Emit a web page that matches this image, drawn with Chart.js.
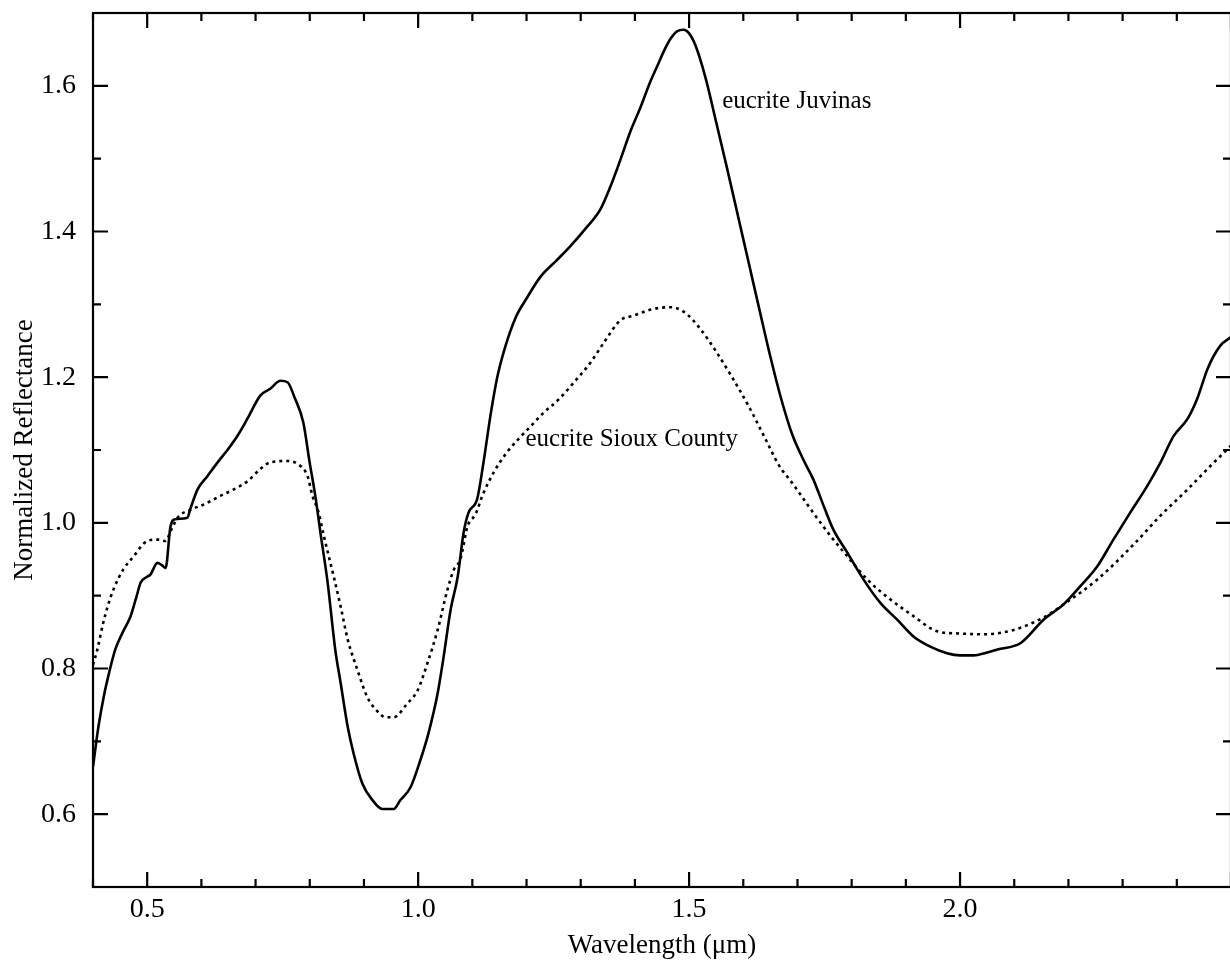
<!DOCTYPE html>
<html lang="en">
<head>
  <meta charset="UTF-8">
  <title>Eucrite spectra</title>
  <script src="https://cdn.jsdelivr.net/npm/chart.js"></script>
  <style>
    html, body { margin: 0; padding: 0; background: #fff; overflow: hidden; }
  </style>
  <script>
    addEventListener("DOMContentLoaded", init);

    // eucrite Juvinas (solid line)
    const juvinasWl = [
      0.400, 0.410, 0.420, 0.430, 0.441, 0.455, 0.469, 0.480, 0.488, 0.500,
      0.506, 0.519, 0.527, 0.534, 0.543, 0.552, 0.574, 0.580, 0.593, 0.611,
      0.630, 0.648, 0.667, 0.685, 0.709, 0.727, 0.746, 0.759, 0.772, 0.788,
      0.800, 0.810, 0.820, 0.833, 0.847, 0.857, 0.870, 0.881, 0.897, 0.916,
      0.934, 0.955, 0.967, 0.986, 1.004, 1.019, 1.036, 1.047, 1.060, 1.073,
      1.084, 1.093, 1.109, 1.120, 1.134, 1.146, 1.160, 1.180, 1.200, 1.226,
      1.255, 1.281, 1.310, 1.336, 1.355, 1.373, 1.392, 1.410, 1.428, 1.443,
      1.455, 1.466, 1.478, 1.490, 1.500, 1.512, 1.530, 1.550, 1.570, 1.590,
      1.610, 1.630, 1.650, 1.670, 1.690, 1.710, 1.729, 1.750, 1.766, 1.792,
      1.822, 1.853, 1.884, 1.914, 1.945, 1.976, 2.000, 2.025, 2.050, 2.069,
      2.112, 2.154, 2.191, 2.222, 2.253, 2.283, 2.314, 2.345, 2.370, 2.394,
      2.420, 2.438, 2.457, 2.480, 2.500
    ];
    const juvinasRefl = [
      0.665, 0.720, 0.762, 0.795, 0.826, 0.850, 0.871, 0.898, 0.918, 0.926,
      0.929, 0.945, 0.942, 0.938, 0.995, 1.005, 1.007, 1.020, 1.046, 1.064,
      1.083, 1.100, 1.120, 1.143, 1.175, 1.184, 1.195, 1.193, 1.172, 1.138,
      1.082, 1.038, 0.985, 0.918, 0.826, 0.780, 0.720, 0.683, 0.642, 0.619,
      0.607, 0.607, 0.619, 0.637, 0.674, 0.711, 0.766, 0.816, 0.881, 0.926,
      0.987, 1.014, 1.033, 1.080, 1.150, 1.200, 1.240, 1.282, 1.308, 1.338,
      1.360, 1.380, 1.405, 1.430, 1.462, 1.498, 1.538, 1.570, 1.605, 1.630,
      1.650, 1.665, 1.675, 1.677, 1.672, 1.655, 1.612, 1.550, 1.487, 1.422,
      1.357, 1.292, 1.228, 1.170, 1.122, 1.088, 1.060, 1.020, 0.991, 0.959,
      0.922, 0.890, 0.867, 0.844, 0.830, 0.821, 0.818, 0.818, 0.822, 0.826,
      0.835, 0.867, 0.888, 0.913, 0.940, 0.977, 1.014, 1.050, 1.083, 1.119,
      1.143, 1.171, 1.212, 1.243, 1.255
    ];

    // eucrite Sioux County (dotted line)
    const siouxWl = [
      0.400, 0.408, 0.418, 0.427, 0.438, 0.456, 0.475, 0.500, 0.519, 0.534,
      0.543, 0.556, 0.580, 0.604, 0.635, 0.660, 0.685, 0.709, 0.727, 0.759,
      0.777, 0.796, 0.805, 0.816, 0.826, 0.844, 0.857, 0.870, 0.888, 0.906,
      0.925, 0.940, 0.955, 0.980, 0.999, 1.017, 1.036, 1.054, 1.066, 1.078,
      1.091, 1.106, 1.120, 1.140, 1.161, 1.185, 1.207, 1.230, 1.260, 1.290,
      1.318, 1.345, 1.373, 1.400, 1.430, 1.466, 1.490, 1.520, 1.550, 1.576,
      1.610, 1.641, 1.665, 1.692, 1.729, 1.761, 1.792, 1.829, 1.871, 1.914,
      1.958, 2.000, 2.043, 2.099, 2.154, 2.191, 2.253, 2.320, 2.370, 2.420,
      2.462, 2.500
    ];
    const siouxRefl = [
      0.805, 0.826, 0.860, 0.885, 0.909, 0.936, 0.954, 0.975, 0.977, 0.975,
      0.988, 1.007, 1.018, 1.025, 1.037, 1.046, 1.057, 1.074, 1.083, 1.085,
      1.081, 1.064, 1.037, 1.015, 0.982, 0.927, 0.885, 0.840, 0.798, 0.761,
      0.741, 0.733, 0.733, 0.752, 0.770, 0.807, 0.853, 0.908, 0.936, 0.950,
      0.995, 1.012, 1.040, 1.070, 1.094, 1.115, 1.132, 1.150, 1.170, 1.195,
      1.220, 1.250, 1.278, 1.285, 1.293, 1.296, 1.290, 1.267, 1.235, 1.204,
      1.160, 1.115, 1.080, 1.053, 1.014, 0.982, 0.954, 0.922, 0.895, 0.872,
      0.851, 0.848, 0.847, 0.853, 0.870, 0.888, 0.922, 0.970, 1.010, 1.046,
      1.078, 1.106
    ];

    const xTickLabels = [0.5, 1.0, 1.5, 2.0];
    const yTickLabels = [0.6, 0.8, 1.0, 1.2, 1.4, 1.6];

    const curveLabels = [
      { text: "eucrite Juvinas", x: 1.561, y: 1.578 },
      { text: "eucrite Sioux County", x: 1.198, y: 1.114 }
    ];

    const serif = "'Liberation Serif', 'Times New Roman', serif";

    // box frame with inward ticks on all four sides, plus curve labels
    const frameTicks = {
      id: "frameTicks",
      afterDraw(chart) {
        const ctx = chart.ctx;
        const a = chart.chartArea;
        const x = chart.scales.x, y = chart.scales.y;
        ctx.save();
        ctx.strokeStyle = "#000";
        ctx.lineWidth = 2.2;
        ctx.strokeRect(a.left, a.top, a.right - a.left, a.bottom - a.top);
        ctx.beginPath();
        for (let i = 4; i <= 25; i++) {
          const px = x.getPixelForValue(i / 10);
          const len = i % 5 === 0 ? 15 : 8;
          ctx.moveTo(px, a.bottom); ctx.lineTo(px, a.bottom - len);
          ctx.moveTo(px, a.top); ctx.lineTo(px, a.top + len);
        }
        for (let j = 5; j <= 17; j++) {
          const py = y.getPixelForValue(j / 10);
          const len = j % 2 === 0 ? 15 : 8;
          ctx.moveTo(a.left, py); ctx.lineTo(a.left + len, py);
          ctx.moveTo(a.right, py); ctx.lineTo(a.right - len, py);
        }
        ctx.stroke();

        ctx.fillStyle = "#000";
        ctx.font = "25px " + serif;
        ctx.textAlign = "left";
        ctx.textBaseline = "middle";
        for (let lab of curveLabels) {
          ctx.fillText(lab.text, x.getPixelForValue(lab.x), y.getPixelForValue(lab.y));
        }
        ctx.restore();
      }
    };

    function toPoints(xs, ys) {
      return xs.map((v, i) => ({ x: v, y: ys[i] }));
    }

    function init() {
      const canvas = document.getElementById("spectra");
      new Chart(canvas, {
        type: "line",
        data: {
          datasets: [{
            label: "eucrite Juvinas",
            data: toPoints(juvinasWl, juvinasRefl),
            borderColor: "#000",
            borderWidth: 2.6,
            pointRadius: 0,
            cubicInterpolationMode: "monotone"
          }, {
            label: "eucrite Sioux County",
            data: toPoints(siouxWl, siouxRefl),
            borderColor: "#000",
            borderWidth: 2.6,
            borderDash: [3, 4],
            pointRadius: 0,
            cubicInterpolationMode: "monotone"
          }]
        },
        options: {
          responsive: false,
          animation: false,
          layout: { padding: { top: 13, right: 3, left: 0, bottom: 0 } },
          plugins: {
            legend: { display: false },
            tooltip: { enabled: false }
          },
          scales: {
            x: {
              type: "linear",
              min: 0.4,
              max: 2.5,
              afterFit: s => { s.height = 88; s.paddingLeft = 0; s.paddingRight = 0; },
              afterBuildTicks: s => { s.ticks = xTickLabels.map(v => ({ value: v })); },
              grid: { display: false, drawTicks: false },
              border: { display: false },
              ticks: {
                padding: 6,
                color: "#000",
                font: { family: serif, size: 28 },
                callback: v => v.toFixed(1)
              },
              title: {
                display: true,
                text: "Wavelength (\u03bcm)",
                color: "#000",
                font: { family: serif, size: 27 },
                padding: { top: 0, bottom: 13 }
              }
            },
            y: {
              type: "linear",
              min: 0.5,
              max: 1.7,
              afterFit: s => { s.width = 93; s.paddingTop = 0; s.paddingBottom = 0; },
              afterBuildTicks: s => { s.ticks = yTickLabels.map(v => ({ value: v })); },
              grid: { display: false, drawTicks: false },
              border: { display: false },
              ticks: {
                padding: 17,
                color: "#000",
                font: { family: serif, size: 28 },
                callback: v => v.toFixed(1)
              },
              title: {
                display: true,
                text: "Normalized Reflectance",
                color: "#000",
                font: { family: serif, size: 27 },
                padding: { top: 9, bottom: 0 }
              }
            }
          }
        },
        plugins: [frameTicks]
      });
    }
  </script>
</head>
<body>
  <canvas id="spectra" width="1234" height="975"></canvas>
</body>
</html>
